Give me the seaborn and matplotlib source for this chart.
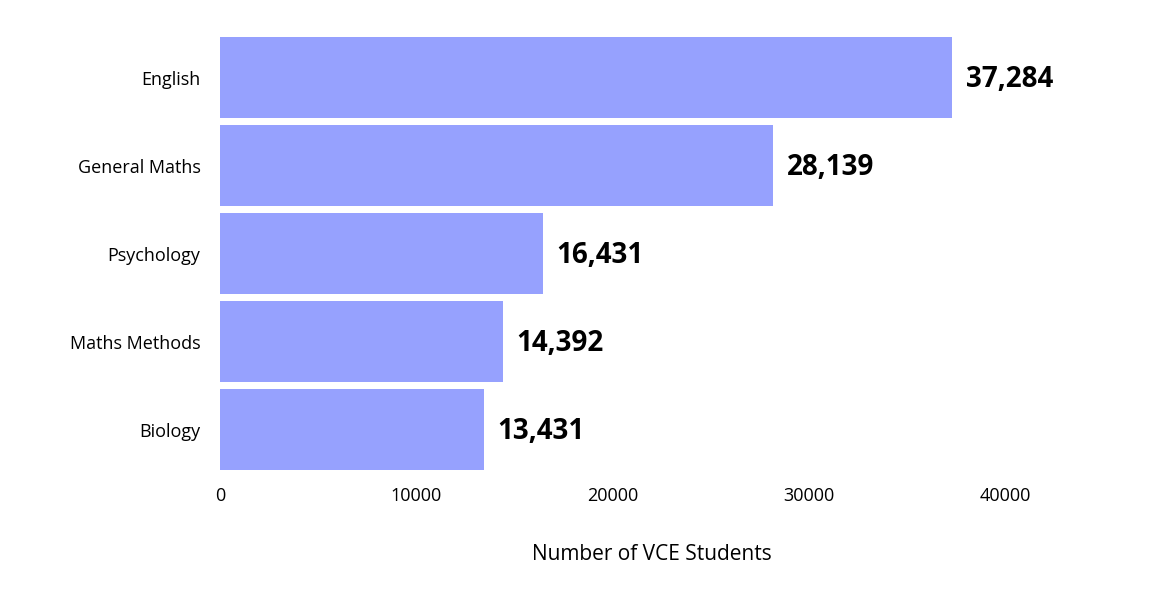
import matplotlib
matplotlib.use("Agg")
import matplotlib.pyplot as plt
import pandas as pd
import seaborn as sns

# ── Data ──────────────────────────────────────────────────────────────────────
subjects = ["English", "General Maths", "Psychology", "Maths Methods", "Biology"]
students = [37284, 28139, 16431, 14392, 13431]
x_ticks = [0, 10000, 20000, 30000, 40000]

df = pd.DataFrame({"subject": subjects, "students": students})

BAR_COLOR = "#96a1fe"

fig = plt.figure(figsize=(11.54, 6.12), dpi=100)
ax = fig.add_axes([0.1906, 0.232, 0.80, 0.707])

sns.barplot(data=df, x="students", y="subject", color=BAR_COLOR,
            width=0.92, saturation=1, ax=ax)

for i, v in enumerate(students):
    ax.text(v + 700, i + 0.02, f"{v:,}", va="center", ha="left",
            fontsize=20, fontweight="bold", family="Open Sans", color="black")

ax.set_xlim(0, 47000)
ax.set_ylim(4.46, -0.46)
ax.set_xticks(x_ticks)
ax.set_xticklabels([str(t) for t in x_ticks], family="Open Sans", fontsize=13)
ax.set_yticklabels(subjects, family="Open Sans", fontsize=13)
ax.tick_params(length=0, pad=14)
ax.tick_params(axis="x", pad=12)
ax.set_ylabel("")
ax.set_xlabel("Number of VCE Students", family="Open Sans", fontsize=15)
ax.xaxis.set_label_coords(0.468, -0.17)
for s in ax.spines.values():
    s.set_visible(False)

fig.savefig("out.png", dpi=100, facecolor="white")
